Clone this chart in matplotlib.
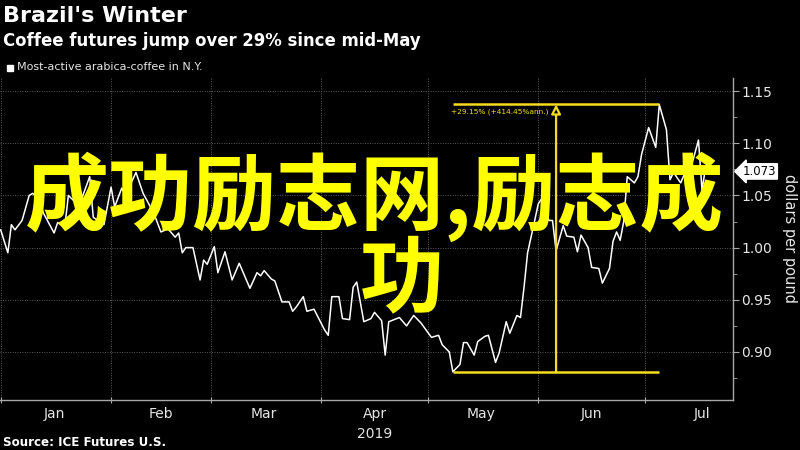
import numpy as np
import matplotlib
matplotlib.use('Agg')
import matplotlib.pyplot as plt
import matplotlib.dates as mdates
from matplotlib.patches import Rectangle
from matplotlib.ticker import MultipleLocator, FixedLocator, NullFormatter

# ---------------- data ----------------
start_date = '2019-01-01'
days = [0, 2, 3, 4, 6, 8, 9, 11, 12, 15, 16, 18, 19, 22, 25, 26, 29, 31, 32, 34,
        35, 38, 40, 43, 45, 47, 49, 50, 51, 52, 54, 56, 57, 58, 60, 61, 63, 65, 67, 70,
        72, 73, 74, 76, 77, 79, 81, 82, 83, 85, 86, 88, 91, 92, 93, 95, 96, 98, 99, 100,
        102, 104, 105, 107, 108, 109, 112, 114, 116, 118, 121, 123, 124, 126, 127, 129, 130, 131, 133, 134,
        136, 137, 139, 140, 142, 143, 145, 146, 147, 148, 150, 151, 152, 154, 155, 156, 158, 159, 161, 162,
        163, 165, 166, 168, 169, 171, 172, 173, 174, 175, 176, 178, 179, 180, 182, 184, 185, 187, 188, 189,
        191, 192, 194, 196, 197, 198, 200]
prices = [1.017, 0.995, 1.022, 1.017, 1.026, 1.050, 1.052, 1.045, 1.033, 1.014, 1.024, 1.020, 1.050, 1.040, 1.068, 1.029, 1.022, 1.058, 1.039, 1.057,
          1.050, 1.072, 1.052, 1.033, 1.015, 1.018, 1.010, 1.014, 0.995, 1.000, 1.000, 0.969, 0.988, 0.984, 1.001, 0.976, 0.996, 0.969, 0.985, 0.961,
          0.976, 0.973, 0.978, 0.970, 0.968, 0.948, 0.948, 0.939, 0.943, 0.953, 0.939, 0.941, 0.921, 0.916, 0.953, 0.953, 0.932, 0.931, 0.962, 0.967,
          0.929, 0.932, 0.938, 0.930, 0.897, 0.929, 0.933, 0.925, 0.935, 0.928, 0.914, 0.916, 0.907, 0.900, 0.881, 0.888, 0.909, 0.909, 0.897, 0.910,
          0.915, 0.916, 0.890, 0.899, 0.929, 0.918, 0.935, 0.933, 0.962, 0.995, 1.026, 1.042, 1.047, 1.026, 1.026, 0.997, 1.021, 1.011, 1.010, 0.996,
          1.012, 1.000, 0.981, 0.980, 0.966, 0.980, 1.006, 1.015, 1.007, 1.025, 1.068, 1.062, 1.068, 1.089, 1.115, 1.096, 1.137, 1.113, 1.065, 1.072,
          1.062, 1.070, 1.078, 1.103, 1.055, 1.077, 1.073]

low_day, low_price = 127, 0.8805
high_day, high_price = 185, 1.1372
mid_day = 156
last_price = 1.073
change_label = '+29.15% (+414.45%ann.)'
yticks = [0.90, 0.95, 1.00, 1.05, 1.10, 1.15]
month_labels = ['Jan', 'Feb', 'Mar', 'Apr', 'May', 'Jun', 'Jul']
year_label = '2019'

title = "Brazil's Winter"
subtitle = "Coffee futures jump over 29% since mid-May"
legend_label = "Most-active arabica-coffee in N.Y."
source = "Source: ICE Futures U.S."
ylabel = "dollars per pound"
watermark_line1 = "成功励志网,励志成"
watermark_line2 = "功"

# ---------------- styling ----------------
YEL = '#F5DC1E'
GRID = '#5A5A5A'
AXC = '#A8A8A8'
TXT = '#E6E6E6'
narrow = ['DejaVu Sans']

fig = plt.figure(figsize=(8, 4.5), dpi=100, facecolor='black')
ax = fig.add_axes([0, 50 / 450, 733 / 800, 322 / 450])
ax.set_facecolor('black')

base = np.datetime64(start_date)
dates = base + np.array(days).astype('timedelta64[D]')
ax.plot(dates, prices, color='white', lw=1.1, zorder=3)

d0 = mdates.date2num(base)
ax.set_xlim(d0 - 0.2, d0 + 205.7)
ax.set_ylim(0.854, 1.1625)

# annotation
xl = d0 + low_day
xh = d0 + high_day
xm = d0 + mid_day
ax.plot([xl, xh], [high_price, high_price], color=YEL, lw=1.8, zorder=4, solid_capstyle='butt')
ax.plot([xl, xh], [low_price, low_price], color=YEL, lw=1.8, zorder=4, solid_capstyle='butt')
ax.annotate('', xy=(xm, high_price), xytext=(xm, low_price),
            arrowprops=dict(arrowstyle='-|>,head_length=0.55,head_width=0.28',
                            fc='black', ec=YEL, lw=1.6, shrinkA=0, shrinkB=0),
            zorder=4)
ax.text(xm - 2.0, high_price - 0.004, change_label, color=YEL, fontsize=5.3,
        ha='right', va='top', family=narrow, zorder=4)

# spines
for s in ['left', 'top']:
    ax.spines[s].set_visible(False)
for s in ['bottom', 'right']:
    ax.spines[s].set_color(AXC)
    ax.spines[s].set_linewidth(1.0)

# y axis on right
ax.yaxis.tick_right()
ax.set_yticks(yticks)
ax.set_yticklabels([f'{v:.2f}' for v in yticks], family=narrow, fontsize=10, color=TXT)
ax.yaxis.set_minor_locator(MultipleLocator(0.025))
ax.tick_params(axis='y', which='major', direction='out', length=4, color=AXC, pad=2)
ax.tick_params(axis='y', which='minor', direction='out', length=3, color=AXC)
fig.text(790 / 800, 1 - 239 / 450, ylabel, rotation=-90, color=TXT, fontsize=10.5,
         ha='center', va='center')

# x axis
month_starts = [d0 + v for v in [0, 31, 59, 90, 120, 151, 181]]
mid_months = [d0 + v for v in [15, 45, 74, 105, 135, 166, 197]]
ax.xaxis.set_major_locator(FixedLocator(month_starts))
ax.xaxis.set_major_formatter(NullFormatter())
ax.xaxis.set_minor_locator(FixedLocator(mid_months))
ax.set_xticklabels(month_labels, minor=True, family=narrow, fontsize=10, color=TXT)
ax.tick_params(axis='x', which='major', direction='inout', length=5, color=AXC)
ax.tick_params(axis='x', which='minor', length=0, pad=5)
ax.text(d0 + 105, -0.085, year_label, transform=ax.get_xaxis_transform(),
        ha='center', va='top', color=TXT, fontsize=10, family=narrow)

# grid
ax.grid(True, which='major', axis='both', color=GRID, lw=0.7, ls=(0, (1, 1.5)), zorder=1)

# titles
fig.text(0.004, 1 - 16 / 450, title, color='white', fontsize=16, fontweight='bold', va='center', ha='left')
fig.text(0.004, 1 - 41 / 450, subtitle, color='white', fontsize=11.9, fontweight='bold', va='center', ha='left')
fig.patches.append(Rectangle((7 / 800, 1 - 71 / 450), 6 / 800, 6 / 450, transform=fig.transFigure,
                             color='white', zorder=5))
fig.text(17 / 800, 1 - 67.5 / 450, legend_label, color=TXT, fontsize=8, va='center', ha='left')
fig.text(0.004, 1 - 442 / 450, source, color='white', fontsize=8.6, fontweight='bold', va='center', ha='left')

# watermark
wm_font = ['Noto Sans CJK SC', 'DejaVu Sans']
fig.text(375 / 800, 1 - 197 / 450, watermark_line1, color='#FFFF00', fontsize=60.5, fontweight='bold',
         family=wm_font, ha='center', va='center', zorder=10)
fig.text(402 / 800, 1 - 281 / 450, watermark_line2, color='#FFFF00', fontsize=60.5, fontweight='bold',
         family=wm_font, ha='center', va='center', zorder=10)

# last price tag
ax.annotate(f'{last_price:.3f}', xy=(1.0, last_price), xycoords=('axes fraction', 'data'),
            xytext=(7, 0), textcoords='offset points', ha='left', va='center',
            fontsize=8.5, family=narrow, color='black',
            bbox=dict(boxstyle='larrow,pad=0.1', fc='white', ec='white'),
            annotation_clip=False, zorder=6)

fig.savefig('out.png', dpi=100, facecolor='black')
